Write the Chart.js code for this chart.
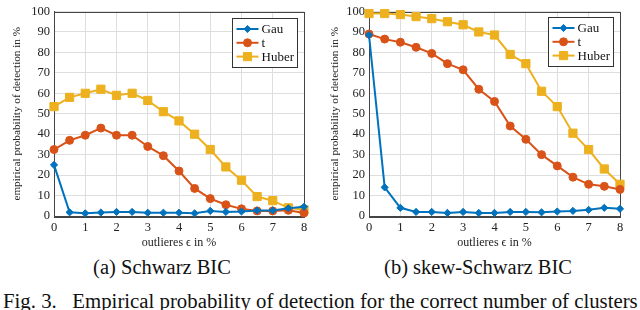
<!DOCTYPE html>
<html><head><meta charset="utf-8">
<script src="https://cdn.jsdelivr.net/npm/chart.js@4/dist/chart.umd.min.js"></script>
<style>
body{margin:0;background:#fff;width:640px;height:310px;overflow:hidden;position:relative;font-family:"Liberation Serif","Times New Roman",serif;}
.wrap{position:absolute;top:0;width:320px;height:250px;}
.cap{position:absolute;font-size:20.5px;line-height:20px;white-space:nowrap;color:#111;font-family:"Liberation Serif",serif;}
</style></head><body>
<div class="wrap" style="left:0"><canvas id="c1" width="320" height="250"></canvas></div>
<div class="wrap" style="left:320px"><canvas id="c2" width="320" height="250"></canvas></div>
<div class="cap" style="top:257px;left:52px;width:220px;text-align:center">(a) Schwarz BIC</div>
<div class="cap" style="top:257px;left:368px;width:220px;text-align:center">(b) skew-Schwarz BIC</div>
<div class="cap" style="top:291px;left:3px;font-size:20.8px">Fig. 3.&nbsp;&nbsp; Empirical probability of detection for the correct number of clusters</div>
<script>
const outliers = [0,0.5,1,1.5,2,2.5,3,3.5,4,4.5,5,5.5,6,6.5,7,7.5,8];
const xTicks = [0,1,2,3,4,5,6,7,8];
const yTicks = [0,10,20,30,40,50,60,70,80,90,100];
const seriesNames = ['Gau','t','Huber'];

const schwarzGau   = [25,1.8,1.3,1.7,2,2,1.6,1.6,1.6,1.3,2.5,2,2.2,2.7,2.7,3.8,4.5];
const schwarzT     = [32.5,37,39.5,43,39.5,39.5,34,29.5,22,13.5,8.5,5.5,3.5,2.5,2.5,2.8,1.5];
const schwarzHuber = [53.5,58,60,62,59,60,56.5,51,46.5,40,32.5,24,17.5,9.5,7.5,4,3];

const skewGau   = [88.5,14,4,2,2,1.5,2,1.5,1.5,2,2,1.8,2.2,2.5,3,4,3.5];
const skewT     = [89,86.5,85,82.5,79.5,74.5,71.5,62,56,44,37.5,30,24.5,19,15.5,14.5,13];
const skewHuber = [99,99,98.5,97.5,96.5,95,93.5,90,88.5,79,74.5,61,53.5,40.5,32.5,23,15.5];

const colors = ['#0072BD','#D95319','#EDB120'];
const styles = ['rectRot','circle','rect'];
const radii = [3.6,4,5.8];
const FONT = '"Liberation Serif", serif';

function pts(arr){ return arr.map((v,i)=>({x:outliers[i], y:v})); }

const framePlugin = {
  id:'frame',
  beforeDatasetsDraw(chart){
    const a = chart.chartArea, ctx = chart.ctx;
    ctx.save(); ctx.strokeStyle='#444'; ctx.lineWidth=1;
    ctx.strokeRect(Math.round(a.left)+0.5, Math.round(a.top)+0.5, Math.round(a.right-a.left), Math.round(a.bottom-a.top));
    ctx.restore();
  }
};
const legendPlugin = {
  id:'boxLegend',
  afterDatasetsDraw(chart, args, opts){
    const a = chart.chartArea, ctx = chart.ctx;
    const w = 65, h = 49;
    const x0 = Math.round(a.right - 7 - w) + 0.5, y0 = Math.round(a.top + opts.dy) + 0.5;
    ctx.save();
    ctx.fillStyle='#fff'; ctx.fillRect(x0,y0,w,h);
    ctx.strokeStyle='#333'; ctx.lineWidth=1; ctx.strokeRect(x0,y0,w,h);
    chart.data.datasets.forEach((ds,i)=>{
      const yy = y0 + 10.5 + i*13.8;
      ctx.strokeStyle = ds.borderColor; ctx.lineWidth = 2;
      ctx.beginPath(); ctx.moveTo(x0+4,yy); ctx.lineTo(x0+26,yy); ctx.stroke();
      ctx.save();
      ctx.fillStyle = ds.borderColor; ctx.strokeStyle = ds.borderColor; ctx.lineWidth = 1;
      Chart.helpers.drawPoint(ctx,{pointStyle:ds.pointStyle,radius:ds.pointRadius,rotation:0,borderWidth:1}, x0+15, yy);
      ctx.restore();
      ctx.fillStyle='#111'; ctx.font='13px '+FONT; ctx.textBaseline='middle'; ctx.textAlign='left';
      ctx.fillText(ds.label, x0+29, yy+0.5);
    });
    ctx.restore();
  }
};

function makeChart(id, data, yAxisWidth, pad, titlePad, legendDy){
  const datasets = data.map((arr,i)=>({
    label: seriesNames[i], data: pts(arr),
    borderColor: colors[i], backgroundColor: colors[i],
    pointBackgroundColor: colors[i], pointBorderColor: colors[i],
    pointStyle: styles[i], pointRadius: radii[i], pointBorderWidth:1,
    borderWidth: 2, tension: 0, clip: false
  }));
  return new Chart(document.getElementById(id), {
    type:'line',
    data:{datasets},
    plugins:[framePlugin, legendPlugin],
    options:{
      responsive:false, animation:false, devicePixelRatio:1,
      layout:{padding:pad},
      plugins:{legend:{display:false}, tooltip:{enabled:false}, boxLegend:{dy:legendDy}},
      scales:{
        x:{type:'linear', min:0, max:8,
          afterBuildTicks: s => { s.ticks = xTicks.map(v=>({value:v})); },
          afterFit: s => { s.height = 34; },
          ticks:{font:{family:FONT,size:12.5}, color:'#222', padding:4, maxRotation:0},
          grid:{color:'#dedede', drawTicks:false},
          border:{color:'#444'},
          title:{display:true, text:'outlieres \u03F5 in %', font:{family:FONT,size:12}, color:'#222', padding:0}
        },
        y:{min:0, max:100,
          afterBuildTicks: s => { s.ticks = yTicks.map(v=>({value:v})); },
          afterFit: s => { s.width = yAxisWidth; },
          ticks:{font:{family:FONT,size:12.5}, color:'#222', padding:4},
          grid:{color:'#dedede', drawTicks:false},
          border:{color:'#444'},
          title:{display:true, text:'empirical probability of detection in %', font:{family:FONT,size:11.2}, color:'#222', padding:{top:titlePad,bottom:0}}
        }
      }
    }
  });
}
function build(){
  Chart.defaults.font.family = FONT;
  makeChart('c1', [schwarzGau, schwarzT, schwarzHuber], 54, {left:0,top:6,right:16,bottom:0}, 10.5, 6);
  makeChart('c2', [skewGau, skewT, skewHuber], 49, {left:0,top:7,right:20,bottom:0}, 8.5, 5);
}
Promise.all([
  document.fonts.load('12px "Liberation Serif"'),
  document.fonts.load('13px "Liberation Serif"')
]).then(build, build);
</script>
</body></html>
